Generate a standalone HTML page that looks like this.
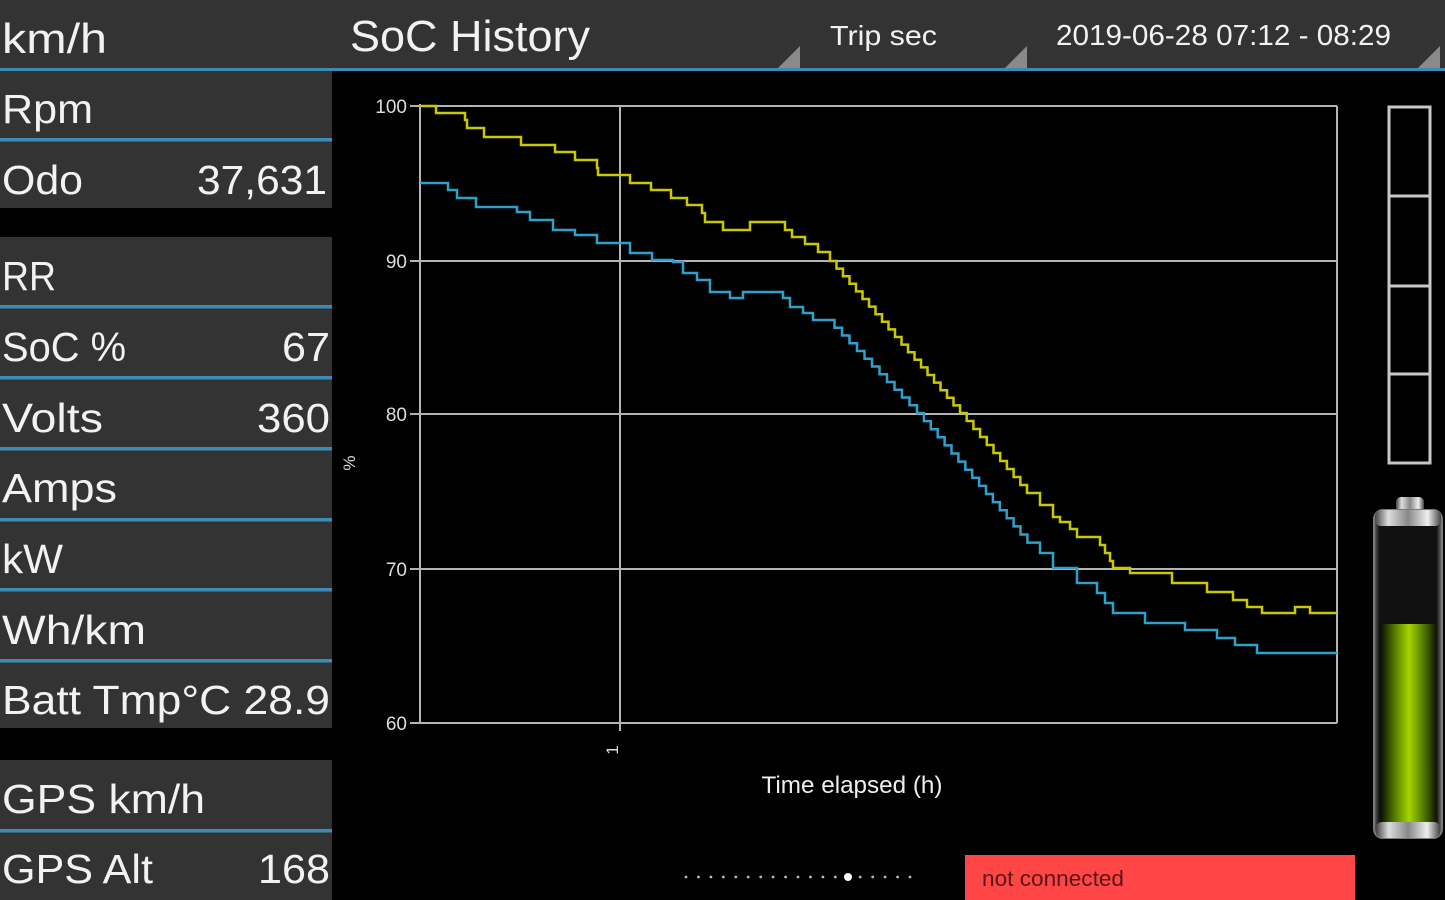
<!DOCTYPE html>
<html><head><meta charset="utf-8"><style>
html,body{margin:0;padding:0;background:#000;}
svg{display:block;}
text{font-family:"Liberation Sans",sans-serif;}
</style></head><body>
<svg width="1445" height="900" viewBox="0 0 1445 900" xmlns="http://www.w3.org/2000/svg">
<defs>
<linearGradient id="green" x1="0" y1="0" x2="1" y2="0">
<stop offset="0" stop-color="#111a00"/><stop offset="0.25" stop-color="#5a8000"/><stop offset="0.5" stop-color="#a6d400"/><stop offset="0.75" stop-color="#5a8000"/><stop offset="1" stop-color="#111a00"/>
</linearGradient>
<linearGradient id="silver" x1="0" y1="0" x2="1" y2="0">
<stop offset="0" stop-color="#444"/><stop offset="0.2" stop-color="#ddd"/><stop offset="0.5" stop-color="#888"/><stop offset="0.8" stop-color="#eee"/><stop offset="1" stop-color="#444"/>
</linearGradient>
<linearGradient id="glass" x1="0" y1="0" x2="1" y2="0">
<stop offset="0" stop-color="#666"/><stop offset="0.08" stop-color="#111"/><stop offset="0.92" stop-color="#111"/><stop offset="1" stop-color="#777"/>
</linearGradient>
</defs>
<rect width="1445" height="900" fill="#000"/>
<!-- top bar -->
<rect x="0" y="0" width="1445" height="68" fill="#333"/>
<rect x="0" y="68" width="1445" height="3" fill="#3a8cb4"/>
<polygon points="800,46 800,68 778,68" fill="#8a8a8a"/>
<polygon points="1027,46 1027,68 1005,68" fill="#8a8a8a"/>
<polygon points="1440,46 1440,68 1418,68" fill="#8a8a8a"/>
<text x="2" y="53" font-size="42" fill="#f2f2f2" textLength="105" lengthAdjust="spacingAndGlyphs">km/h</text>
<text x="350" y="51" font-size="44" fill="#f2f2f2" textLength="240" lengthAdjust="spacingAndGlyphs">SoC History</text>
<text x="830" y="45" font-size="28" fill="#f2f2f2" textLength="107" lengthAdjust="spacingAndGlyphs">Trip sec</text>
<text x="1056" y="45" font-size="29" fill="#f2f2f2" textLength="335" lengthAdjust="spacingAndGlyphs">2019-06-28 07:12 - 08:29</text>
<!-- left panel -->
<rect x="0" y="71" width="332" height="137" fill="#333"/>
<rect x="0" y="237" width="332" height="491" fill="#333"/>
<rect x="0" y="760" width="332" height="140" fill="#333"/>
<g fill="#3a8cb4">
<rect x="0" y="138" width="332" height="3.5"/>
<rect x="0" y="305" width="332" height="3.5"/>
<rect x="0" y="376" width="332" height="3.5"/>
<rect x="0" y="447" width="332" height="3.5"/>
<rect x="0" y="518" width="332" height="3.5"/>
<rect x="0" y="588" width="332" height="3.5"/>
<rect x="0" y="659" width="332" height="3.5"/>
<rect x="0" y="829" width="332" height="3.5"/>
</g>
<g font-size="41" fill="#f2f2f2">
<text x="2" y="123" textLength="91" lengthAdjust="spacingAndGlyphs">Rpm</text>
<text x="2" y="194" textLength="81" lengthAdjust="spacingAndGlyphs">Odo</text>
<text x="197" y="194" textLength="130" lengthAdjust="spacingAndGlyphs">37,631</text>
<text x="2" y="290" textLength="54" lengthAdjust="spacingAndGlyphs">RR</text>
<text x="2" y="361" textLength="124" lengthAdjust="spacingAndGlyphs">SoC %</text>
<text x="282" y="361" textLength="48" lengthAdjust="spacingAndGlyphs">67</text>
<text x="2" y="432" textLength="101" lengthAdjust="spacingAndGlyphs">Volts</text>
<text x="257" y="432" textLength="73" lengthAdjust="spacingAndGlyphs">360</text>
<text x="2" y="502" textLength="115" lengthAdjust="spacingAndGlyphs">Amps</text>
<text x="2" y="573" textLength="61" lengthAdjust="spacingAndGlyphs">kW</text>
<text x="2" y="644" textLength="144" lengthAdjust="spacingAndGlyphs">Wh/km</text>
<text x="2" y="714" textLength="328" lengthAdjust="spacingAndGlyphs">Batt Tmp°C 28.9</text>
<text x="2" y="813" textLength="203" lengthAdjust="spacingAndGlyphs">GPS km/h</text>
<text x="2" y="883" textLength="151" lengthAdjust="spacingAndGlyphs">GPS Alt</text>
<text x="258" y="883" textLength="72" lengthAdjust="spacingAndGlyphs">168</text>
</g>
<!-- chart grid -->
<g stroke="#b4b4b4" stroke-width="2" fill="none">
<line x1="420" y1="106" x2="1337" y2="106"/>
<line x1="420" y1="261" x2="1337" y2="261"/>
<line x1="420" y1="414" x2="1337" y2="414"/>
<line x1="420" y1="569" x2="1337" y2="569"/>
<line x1="410" y1="723" x2="1337" y2="723"/>
<line x1="420" y1="104" x2="420" y2="723"/>
<line x1="620" y1="106" x2="620" y2="731"/>
<line x1="1337" y1="106" x2="1337" y2="723"/>
<line x1="410" y1="106" x2="420" y2="106"/>
<line x1="410" y1="261" x2="420" y2="261"/>
<line x1="410" y1="414" x2="420" y2="414"/>
<line x1="410" y1="569" x2="420" y2="569"/>
</g>
<g font-size="19" fill="#dddddd" text-anchor="end">
<text x="407" y="113">100</text>
<text x="407" y="268">90</text>
<text x="407" y="421">80</text>
<text x="407" y="576">70</text>
<text x="407" y="730">60</text>
</g>
<text transform="translate(355,463) rotate(-90)" font-size="17" fill="#dddddd" text-anchor="middle">%</text>
<text transform="translate(618,750) rotate(-90)" font-size="17" fill="#dddddd" text-anchor="middle">1</text>
<text x="852" y="793" font-size="24" fill="#eeeeee" text-anchor="middle" textLength="181" lengthAdjust="spacingAndGlyphs">Time elapsed (h)</text>
<!-- series -->
<path fill="none" stroke="#c9c900" stroke-width="2.5" stroke-linejoin="miter" d="M420,106 H436 V113 H465 V120 H467 V128 H484 V137 H521 V145 H555 V152 H575 V160 H597 V168 H598 V175 H630 V183 H651 V190 H671 V198 H687 V205 H702 V213 H705 V222 H723 V230 H750 V222 H785 V230 H792 V237 H805 V244 H818 V252 H830 V261 h6.5v7.6h6.5v7.6h6.5v7.6h6.5v7.6h6.5v7.6h6.5v7.6h6.5v7.6h6.5v7.6h6.5v7.6h6.5v7.6h6.5v7.6h6.5v7.6h6.5v7.6h6.5v7.6h6.5v7.6h6.5v7.6h6.5v7.6h6.5v7.6h6.5v7.6h6.5v7.6 h6.7v8h6.7v8h6.7v8h6.7v8h6.7v8h6.7v8h6.7v8h6.7v8h6.7v8h6.7v8 H1040 V505 H1053 V517 H1060 V522 H1070 V529 H1077 V537 H1100 V545 H1105 V553 H1110 V561 H1113 V568 H1130 V573 H1172 V583 H1207 V592 H1233 V600 H1247 V607 H1262 V613 H1295 V607 H1310 V613 H1337"/>
<path fill="none" stroke="#2fa0cc" stroke-width="2.5" d="M420,183 H448 V190 H457 V198 H476 V207 H517 V212 H530 V220 H553 V230 H575 V235 H597 V243 H630 V253 H652 V260 H673 V262 H683 V273 H697 V280 H710 V292 H730 V298 H743 V292 H783 V298 H790 V307 H803 V313 H813 V320 H827 h7.5v7.75h7.5v7.75h7.5v7.75h7.5v7.75h7.5v7.75h7.5v7.75h7.5v7.75h7.5v7.75h7.5v7.75h7.5v7.75h7.5v7.75h7.5v7.75 h6.9v8.1h6.9v8.1h6.9v8.1h6.9v8.1h6.9v8.1h6.9v8.1h6.9v8.1h6.9v8.1h6.9v8.1h6.9v8.1h6.9v8.1h6.9v8.1h6.9v8.1h6.9v8.1h6.9v8.1h6.9v8.1 H1040 V553 H1053 V568 H1077 V583 H1097 V593 H1105 V603 H1113 V613 H1145 V623 H1185 V630 H1217 V638 H1235 V645 H1257 V653 H1337"/>
<!-- segment gauge -->
<g fill="none" stroke="#c8c8c8" stroke-width="3">
<rect x="1389" y="107" width="41" height="356"/>
<line x1="1389" y1="196" x2="1430" y2="196"/>
<line x1="1389" y1="286" x2="1430" y2="286"/>
<line x1="1389" y1="374" x2="1430" y2="374"/>
</g>
<!-- battery -->
<rect x="1396" y="497" width="28" height="16" rx="5" fill="url(#silver)"/>
<rect x="1374" y="510" width="68" height="328" rx="9" fill="url(#glass)" stroke="#7a7a7a" stroke-width="2"/>
<rect x="1375" y="510" width="66" height="16" rx="6" fill="url(#silver)"/>
<rect x="1382" y="624" width="54" height="200" fill="url(#green)"/>
<rect x="1376" y="822" width="64" height="16" rx="6" fill="url(#silver)"/>
<!-- page dots -->
<g fill="#bbbbbb">
<circle cx="686" cy="877" r="1.4"/><circle cx="698.4" cy="877" r="1.4"/><circle cx="710.9" cy="877" r="1.4"/><circle cx="723.3" cy="877" r="1.4"/><circle cx="735.8" cy="877" r="1.4"/><circle cx="748.2" cy="877" r="1.4"/><circle cx="760.7" cy="877" r="1.4"/><circle cx="773.1" cy="877" r="1.4"/><circle cx="785.6" cy="877" r="1.4"/><circle cx="798" cy="877" r="1.4"/><circle cx="810.4" cy="877" r="1.4"/><circle cx="822.9" cy="877" r="1.4"/><circle cx="835.3" cy="877" r="1.4"/>
<circle cx="860.2" cy="877" r="1.4"/><circle cx="872.7" cy="877" r="1.4"/><circle cx="885.1" cy="877" r="1.4"/><circle cx="897.6" cy="877" r="1.4"/><circle cx="910" cy="877" r="1.4"/>
</g>
<circle cx="848" cy="877" r="4" fill="#ffffff"/>
<!-- status -->
<rect x="965" y="855" width="390" height="45" fill="#ff4646"/>
<text x="982" y="886" font-size="22" fill="#5a1515" textLength="142" lengthAdjust="spacingAndGlyphs">not connected</text>
</svg>
</body></html>
